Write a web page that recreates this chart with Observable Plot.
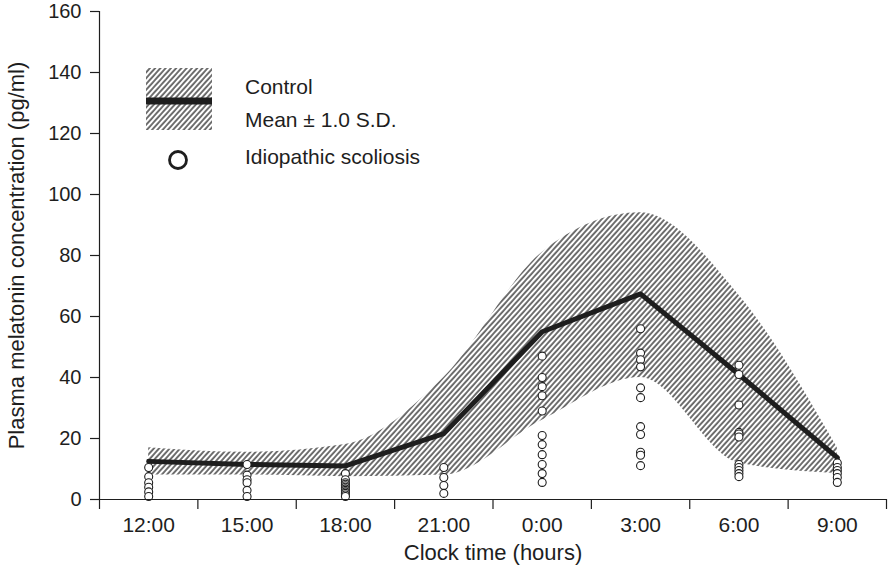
<!DOCTYPE html>
<html>
<head>
<meta charset="utf-8">
<script src="https://cdn.jsdelivr.net/npm/d3@7"></script>
<script src="https://cdn.jsdelivr.net/npm/@observablehq/plot@0.6"></script>
<style>
  html, body { margin: 0; padding: 0; background: white; }
  #wrap { position: relative; width: 890px; height: 574px; font-family: "Liberation Sans", Arial, Helvetica, sans-serif; }
  #legend { position: absolute; left: 0; top: 0; pointer-events: none; }
</style>
</head>
<body>
<div id="wrap"></div>
<script>
// ---- data ----
const times = ["12:00", "15:00", "18:00", "21:00", "0:00", "3:00", "6:00", "9:00"];
const meanValues  = [12.5, 11.5, 11, 21.6, 55, 67.4, 41, 13.7];
const upperValues = [17, 15.5, 18, 40, 81, 94, 67, 17];
const lowerValues = [8, 8, 7.5, 8, 26, 40, 12, 8.5];

const scoliosis1200 = [10.5, 7.5, 5.5, 4, 2.5, 1];
const scoliosis1500 = [11.5, 8, 6.5, 5.5, 3, 1];
const scoliosis1800 = [8.5, 6.5, 5.5, 5, 4.5, 4, 3.5, 3, 2.5, 2, 1.5, 1];
const scoliosis2100 = [10.5, 7.2, 4.6, 2];
const scoliosis0000 = [47, 40, 37, 34, 29, 21, 18, 14.7, 11.5, 8.5, 5.6];
const scoliosis0300 = [56, 48, 45.8, 43.5, 36.6, 33.4, 23.9, 21.3, 15.5, 14.5, 11.1];
const scoliosis0600 = [44, 41, 31, 22, 21.5, 20.5, 11.5, 10.5, 9.5, 8.5, 7.5];
const scoliosis0900 = [12, 10.5, 9.5, 8.5, 7.2, 5.6];

const yTicks = [0, 20, 40, 60, 80, 100, 120, 140, 160];
const xLabel = "Clock time (hours)";
const yLabel = "Plasma melatonin concentration (pg/ml)";
const legendLabels = ["Control", "Mean \u00b1 1.0 S.D.", "Idiopathic scoliosis"];

// ---- tables ----
const controlRows = times.map((t, i) => ({pos: i + 0.5, mean: meanValues[i], upper: upperValues[i], lower: lowerValues[i]}));
const groups = [scoliosis1200, scoliosis1500, scoliosis1800, scoliosis2100, scoliosis0000, scoliosis0300, scoliosis0600, scoliosis0900];
const pointRows = groups.flatMap((vals, i) => vals.map(v => ({pos: i + 0.5, value: v})));
const boundaries = d3.range(times.length + 1);
const centers = times.map((t, i) => i + 0.5);

const ink = "#1e1e1e";
const font = "'Liberation Sans', Arial, Helvetica, sans-serif";
const chart = Plot.plot({
  width: 890, height: 574,
  marginLeft: 99, marginRight: 4, marginTop: 11, marginBottom: 75,
  x: {domain: [0, times.length], axis: null},
  y: {domain: [0, 160], axis: null},
  style: {fontFamily: font, fontSize: "21px", color: ink, background: "white", overflow: "visible"},
  marks: [
    Plot.areaY(controlRows, {x: "pos", y1: "lower", y2: "upper", fill: "url(#hatch)", curve: "monotone-x"}),
    Plot.line(controlRows, {x: "pos", y: "mean", stroke: ink, strokeWidth: 5}),
    Plot.dot(pointRows, {x: "pos", y: "value", r: 4, fill: "white", stroke: ink, strokeWidth: 1.1}),
    Plot.ruleX([0], {y1: 0, y2: 160, stroke: ink, strokeWidth: 1.2}),
    Plot.ruleY([0], {stroke: ink, strokeWidth: 1.2}),
    Plot.axisY({ticks: yTicks, tickSize: 9, tickPadding: 9, label: null, fontSize: 20, strokeWidth: 1.2}),
    Plot.axisX({ticks: boundaries, tickSize: 10, tickFormat: () => "", label: null, strokeWidth: 1.2}),
    Plot.axisX({ticks: centers, tickSize: 0, tickPadding: 18, tickFormat: d => times[Math.floor(d)], label: null, fontSize: 21}),
    Plot.text([yLabel], {text: d => d, frameAnchor: "left", dx: -83, rotate: -90, fontSize: 22, lineAnchor: "middle", textAnchor: "middle"}),
    Plot.text([xLabel], {text: d => d, frameAnchor: "bottom", dy: 53, fontSize: 22, lineAnchor: "middle", textAnchor: "middle"})
  ]
});

const NS = "http://www.w3.org/2000/svg";
function makeHatch(id) {
  const pat = document.createElementNS(NS, "pattern");
  pat.setAttribute("id", id);
  pat.setAttribute("patternUnits", "userSpaceOnUse");
  pat.setAttribute("width", "3.9");
  pat.setAttribute("height", "10");
  pat.setAttribute("patternTransform", "rotate(42)");
  const ln = document.createElementNS(NS, "line");
  ln.setAttribute("x1", "1"); ln.setAttribute("x2", "1");
  ln.setAttribute("y1", "-1"); ln.setAttribute("y2", "11");
  ln.setAttribute("stroke", "#111");
  ln.setAttribute("stroke-width", "1.2");
  pat.appendChild(ln);
  return pat;
}
const defs = document.createElementNS(NS, "defs");
defs.appendChild(makeHatch("hatch"));
chart.insertBefore(defs, chart.firstChild);

const wrap = document.getElementById("wrap");
wrap.appendChild(chart);

// ---- legend overlay ----
const lg = document.createElementNS(NS, "svg");
lg.setAttribute("id", "legend");
lg.setAttribute("width", "890");
lg.setAttribute("height", "574");
const ldefs = document.createElementNS(NS, "defs");
ldefs.appendChild(makeHatch("hatchLegend"));
lg.appendChild(ldefs);
function el(tag, attrs, text) {
  const e = document.createElementNS(NS, tag);
  for (const k in attrs) e.setAttribute(k, attrs[k]);
  if (text) e.textContent = text;
  lg.appendChild(e);
  return e;
}
el("rect", {x: 146, y: 68, width: 66, height: 62, fill: "url(#hatchLegend)"});
el("line", {x1: 146, x2: 212, y1: 101, y2: 101, stroke: ink, "stroke-width": 7});
el("circle", {cx: 178, cy: 160, r: 8.5, fill: "white", stroke: ink, "stroke-width": 2.8});
const tstyle = {"font-family": font, "font-size": 21, fill: ink};
el("text", {...tstyle, x: 245, y: 94}, legendLabels[0]);
el("text", {...tstyle, x: 245, y: 127}, legendLabels[1]);
el("text", {...tstyle, x: 245, y: 164}, legendLabels[2]);
wrap.appendChild(lg);
</script>
</body>
</html>
